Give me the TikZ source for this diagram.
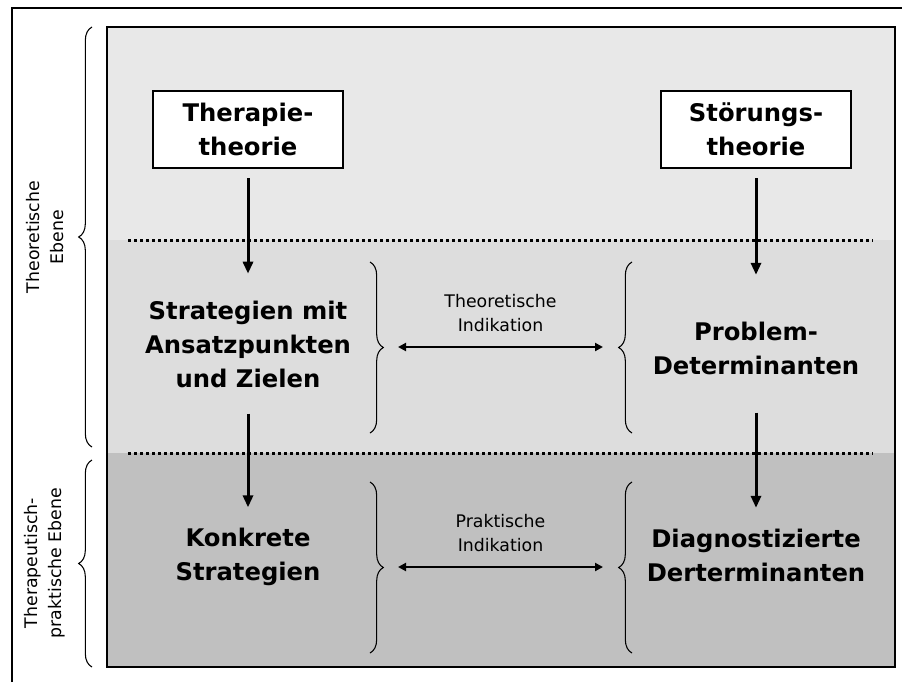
\documentclass[tikz,border=0pt]{standalone}
\usepackage{fontspec}
\setmainfont{DejaVu Sans}
\usetikzlibrary{arrows.meta,positioning,decorations.pathreplacing}
\definecolor{grauhell}{RGB}{232,232,232}
\definecolor{graumittel}{RGB}{221,221,221}
\definecolor{graudunkel}{RGB}{192,192,192}

\begin{document}
\begin{tikzpicture}[x=0.75pt,y=-0.75pt,
    titel/.style={font=\fontsize{18.2}{25.5}\selectfont\bfseries,
      align=center,inner sep=0pt},
    kasten/.style={titel,draw,fill=white,line width=1.5pt,
      minimum width=142.5pt,minimum height=57.75pt},
    klein/.style={font=\fontsize{13}{18}\selectfont,align=center,inner sep=0pt},
    pfeil/.style={-{Triangle[length=9pt,width=7.5pt]},line width=2.25pt},
    doppel/.style={{Triangle[length=6pt,width=6pt]}-{Triangle[length=6pt,width=6pt]},
      line width=1.5pt},
    klammer/.style={decorate,decoration={brace,amplitude=10pt},line width=0.8pt},
    punkte/.style={line width=2.25pt,dash pattern=on 2.25pt off 2.25pt}]
      \useasboundingbox (0,0) rectangle (902,682);

      % Ebenen
      \fill[grauhell]   (107,27)  rectangle (895,240);
      \fill[graumittel] (107,240) rectangle (895,453);
      \fill[graudunkel] (107,453) rectangle (895,667);
      \draw[line width=1.5pt] (107,27) rectangle (895,667);
      \draw[line width=1.5pt] (12,682) |- (902,8);
      \draw[punkte] (128,240) -- (873,240);
      \draw[punkte] (128,453) -- (873,453);

      % Theorien
      \node[kasten] (ther)  at (248,129.5) {Therapie-\\theorie};
      \node[kasten] (stoer) at (756,129.5) {Störungs-\\theorie};

      \node[titel] (strat) at (248,344) {Strategien mit\\Ansatzpunkten\\und Zielen};
      \node[titel] (prob)  at (756,348) {Problem-\\Determinanten};
      \node[titel] (konk)  at (248,557) {Konkrete\\Strategien};
      \node[titel] (diag)  at (756,555) {Diagnostizierte\\Derterminanten};

      \draw[pfeil,shorten <=6.75pt,shorten >=20pt]   (ther.south)  -- (strat.north);
      \draw[pfeil,shorten <=19.5pt,shorten >=15.4pt] (strat.south) -- (konk.north);
      \draw[pfeil,shorten <=6.75pt,shorten >=34.9pt] (stoer.south) -- (prob.north);
      \draw[pfeil,shorten <=28.5pt,shorten >=15.4pt] (prob.south)  -- (diag.north);

      % Indikation
      \draw[klammer] (370,262) -- (370,433);
      \draw[klammer] (632,433) -- (632,262);
      \draw[klammer] (370,482) -- (370,653);
      \draw[klammer] (632,653) -- (632,482);

      \coordinate (tl) at (398,347);
      \coordinate (tr) at (603,347);
      \coordinate (tm) at (500.5,347);
      \coordinate (pl) at (398,567);
      \coordinate (pr) at (603,567);
      \coordinate (pm) at (500.5,567);
      \draw[doppel] (tl) -- (tr);
      \draw[doppel] (pl) -- (pr);

      \node[klein,above=11pt of tm] (ti) {Theoretische\\Indikation};
      \node[klein,above=11pt of pm] (pi) {Praktische\\Indikation};

      % Ebenen links
      \draw[klammer] (92,447) -- (92,27);
      \draw[klammer] (92,667) -- (92,460);
      \node[klein,rotate=90] (te) at (45,237) {Theoretische\\Ebene};
      \node[klein,rotate=90] (pe) at (45,563) {Therapeutisch-\\praktische Ebene};
    \end{tikzpicture}
\end{document}
